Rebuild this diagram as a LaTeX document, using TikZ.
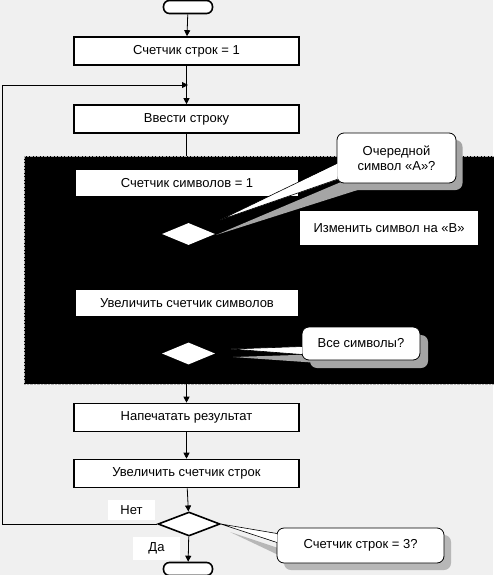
\documentclass[tikz,border=0pt]{standalone}
\usepackage{fontspec}
\setmainfont{Liberation Sans}
\usetikzlibrary{shapes.geometric,arrows.meta,calc}
\definecolor{bgcol}{RGB}{240,240,240}
\definecolor{shcol}{RGB}{165,165,165}
\begin{document}
\begin{tikzpicture}[x=1pt, y=1pt, every node/.style={font=\fontsize{13}{15}\selectfont}]
\tikzstyle{box}=[draw=black, line width=1.6pt, fill=white, minimum width=225, minimum height=28, inner sep=0pt]
\tikzstyle{wbox}=[fill=white, minimum width=222, minimum height=26, inner sep=0pt]
\tikzstyle{term}=[draw=black, line width=1.6pt, fill=white, rounded corners=6, minimum width=49, minimum height=13, inner sep=0pt]
\tikzstyle{dec}=[diamond, fill=white, minimum width=53, minimum height=22, inner sep=0pt]
\tikzstyle{note}=[draw=black, line width=0.8pt, fill=white, rounded corners=7, inner sep=0pt, align=center]
\tikzstyle{shade}=[fill=shcol, rounded corners=7, inner sep=0pt]
\tikzstyle{lbl}=[fill=white, inner sep=0pt]
\tikzstyle{arr}=[-{Triangle[length=6pt,width=6pt]}]
\fill [bgcol] (0,0) rectangle (493,-575);
\useasboundingbox (0,0) rectangle (493,-575);
% black frame of the inner loop
\node [draw=gray!60, densely dotted, fill=black, minimum width=470, minimum height=228, inner sep=0pt] (blk) at (259,-270) {};
% main column
\node [term] (start) at (188,-7) {};
\node [box] (b1) at (186.5,-51) {Счетчик строк = 1};
\node [box] (b2) at (186.5,-119) {Ввести строку};
\node [wbox] (c1) at (187,-183) {Счетчик символов = 1};
\node [dec] (d1) at (188.5,-234) {};
\node [lbl, minimum width=178, minimum height=34] (chg) at (389,-228) {Изменить символ на «В»};
\node [wbox] (inc) at (187,-303) {Увеличить счетчик символов};
\node [dec] (d2) at (188.5,-353.5) {};
\node [box] (b3) at (186.5,-417.5) {Напечатать результат};
\node [box] (b4) at (186.5,-473.5) {Увеличить счетчик строк};
\node [dec, draw=black, line width=1.6pt, minimum width=62, minimum height=24] (d3) at (189,-524) {};
\node [term] (stop) at (188,-569) {};
\node [lbl, minimum width=47, minimum height=20] (no) at (131.5,-510) {Нет};
\node [lbl, minimum width=47, minimum height=23] (yes) at (156.5,-548.5) {Да};
% connectors
\coordinate (loopL) at (2,-85);
\coordinate (join) at (188,-85);
\draw [arr, line width=0.8pt] (start) -- (b1);
\draw [arr, line width=0.8pt] (b1) -- (b2);
\draw [arr, line width=0.8pt] (d3.west) -| (loopL) -- (join);
\draw [line width=0.8pt] (b2.south) -- (b2.south |- blk.north);
\draw [arr, line width=0.8pt] (b3.north |- blk.south) -- (b3);
\draw [arr, line width=0.8pt] (b3) -- (b4);
\draw [arr, line width=0.8pt] (b4) -- (d3);
\draw [arr, line width=0.8pt] (d3) -- (stop);
% callout: Очередной символ
\coordinate (tipA) at (220,-220);
\coordinate (tipAs) at (216,-235);
\node [shade, minimum width=119, minimum height=50] (shA) at (403,-165) {};
\fill [shcol] ($(shA.south west)+(2,10)$) -- (tipAs) -- ($(shA.south west)+(20,2)$) -- cycle;
\node [note, minimum width=119, minimum height=50] (callA) at (396.5,-158) {Очередной\\символ «А»?};
\fill [white] ($(callA.south west)+(1,20)$) -- (tipA) -- ($(callA.south west)+(1,4)$) -- cycle;
\draw [line width=0.6pt] ($(callA.south west)+(0.4,20)$) -- (tipA) -- ($(callA.south west)+(0.4,4)$);
% callout: Все символы
\coordinate (tipB) at (231,-349);
\coordinate (tipBs) at (233,-357);
\node [shade, minimum width=118, minimum height=33] (shB) at (369,-351.5) {};
\fill [shcol] ($(shB.west)+(2,-3)$) -- (tipBs) -- ($(shB.west)+(2,-11)$) -- cycle;
\node [note, minimum width=118, minimum height=33] (callB) at (361,-343.5) {Все символы?};
\fill [white] ($(callB.west)+(0.6,-3)$) -- (tipB) -- ($(callB.west)+(0.6,-11)$) -- cycle;
\draw [line width=0.6pt] ($(callB.west)+(0.4,-3)$) -- (tipB) -- ($(callB.west)+(0.4,-11)$);
% callout: Счетчик строк = 3
\coordinate (tipCs) at (230,-532);
\node [shade, fill=shcol!80, minimum width=167, minimum height=35] (shC) at (367.5,-552.5) {};
\fill [shcol!80] ($(shC.west)+(2,2)$) -- (tipCs) -- ($(shC.west)+(2,-6)$) -- cycle;
\node [note, minimum width=167, minimum height=35] (callC) at (360.5,-545.5) {Счетчик строк = 3?};
\fill [white] ($(callC.west)+(0.6,12)$) -- (d3.east) -- ($(callC.west)+(0.6,3)$) -- cycle;
\draw [line width=0.6pt] ($(callC.west)+(0.4,12)$) -- (d3.east) -- ($(callC.west)+(0.4,3)$);
\end{tikzpicture}
\end{document}
